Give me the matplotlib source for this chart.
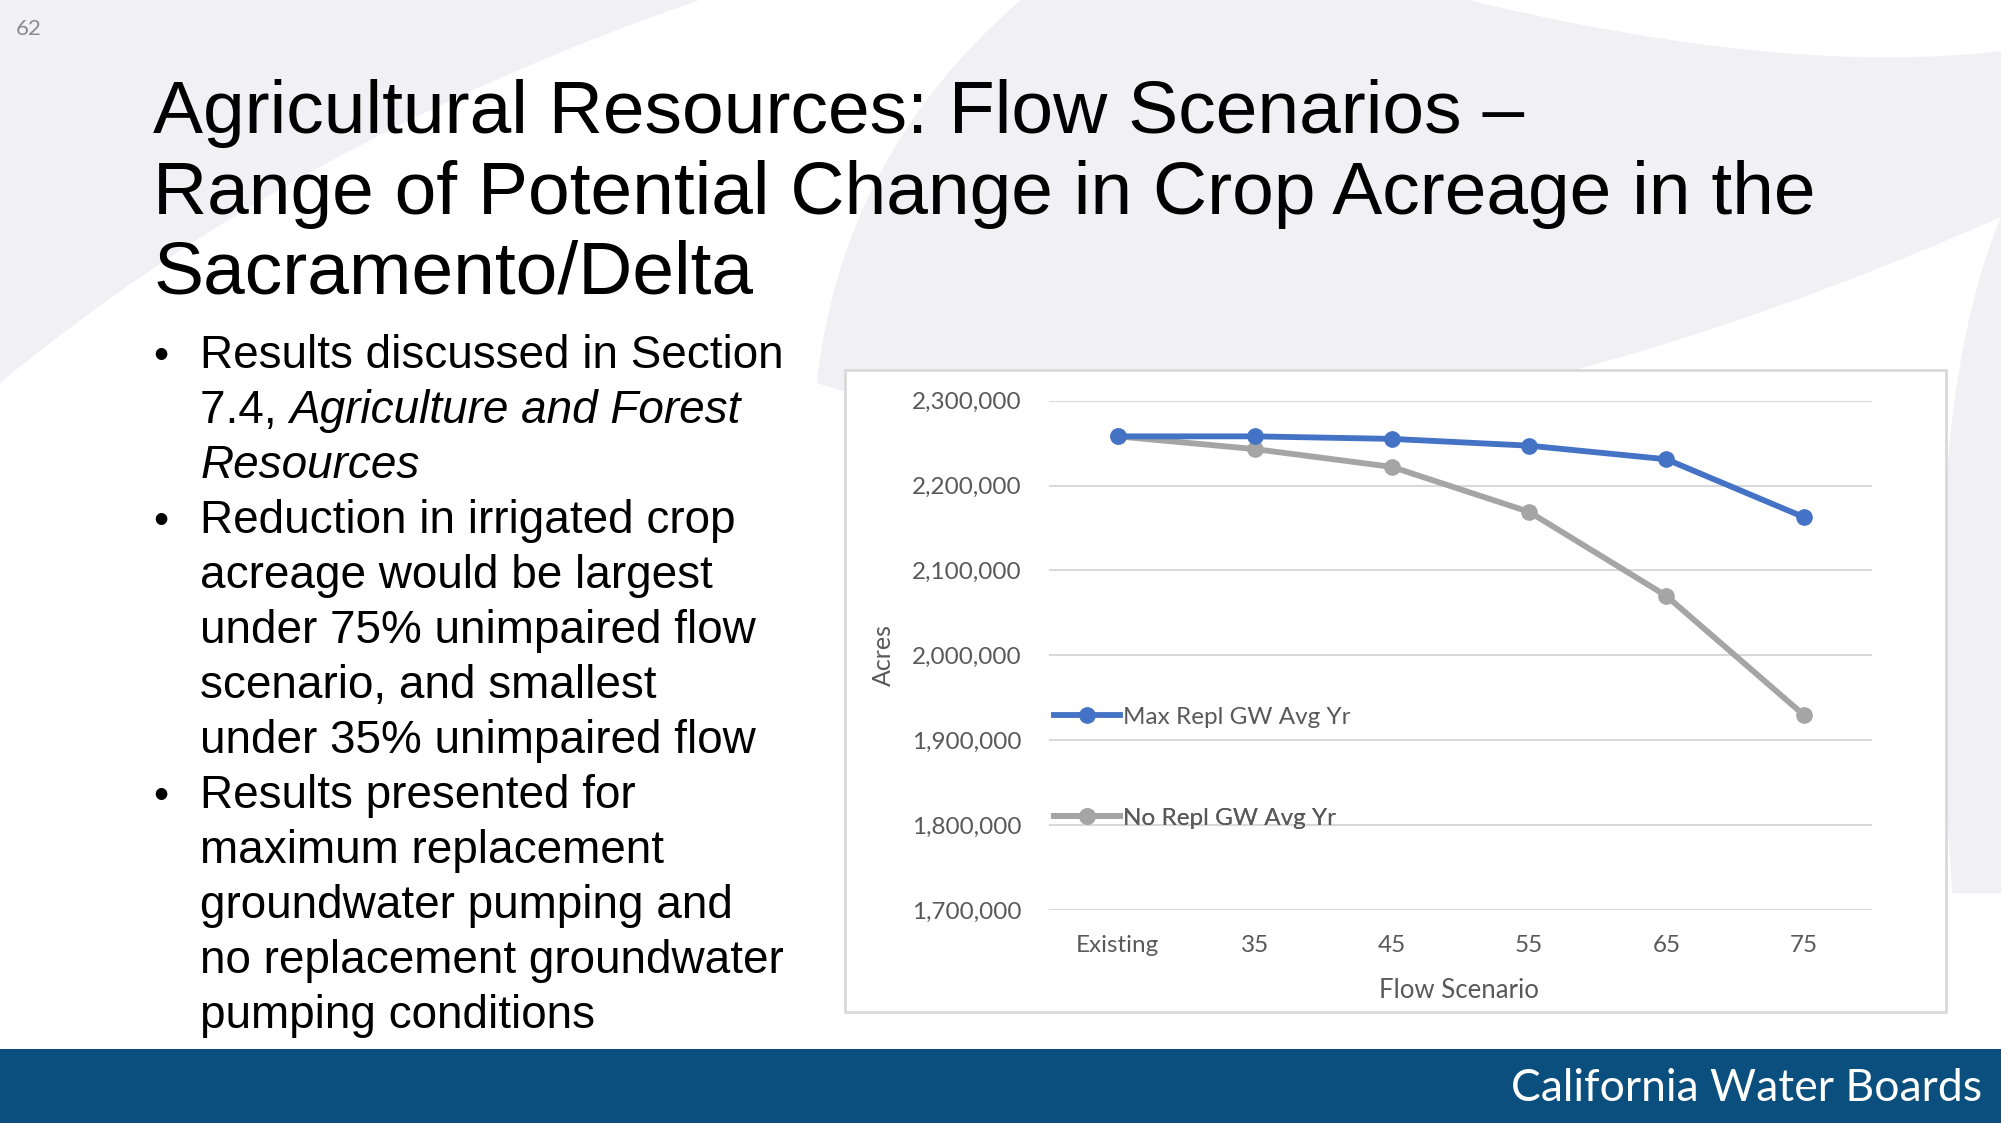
import matplotlib
matplotlib.use("Agg")
import matplotlib.pyplot as plt
from matplotlib.path import Path
from matplotlib.patches import PathPatch, Rectangle
from matplotlib.lines import Line2D
from matplotlib.ticker import FuncFormatter

# ---------------- data ----------------
categories = ["Existing", "35", "45", "55", "65", "75"]
max_repl = [2258000, 2258000, 2255000, 2247000, 2231000, 2163000]
no_repl = [2258000, 2243000, 2222000, 2169000, 2070000, 1930000]
series_labels = ["Max Repl GW Avg Yr", "No Repl GW Avg Yr"]
y_ticks = [1700000, 1800000, 1900000, 2000000, 2100000, 2200000, 2300000]

title_lines = ["Agricultural Resources: Flow Scenarios \u2013",
               "Range of Potential Change in Crop Acreage in the",
               "Sacramento/Delta"]

W, H = 1568.0, 880.0  # layout reference units


def fx(x):
    return x / W


def fy(y):
    return 1 - y / H


fig = plt.figure(figsize=(20.01, 11.23), dpi=100)
fig.patch.set_facecolor("white")

# ---------------- background ----------------
bg = fig.add_axes([0, 0, 1, 1], zorder=0)
bg.set_xlim(0, W)
bg.set_ylim(H, 0)
bg.axis("off")
gray = "#f1f1f5"
g1 = Path([(0, 0), (548, 0), (230, 110), (0, 300), (0, 0)],
          [Path.MOVETO, Path.LINETO, Path.CURVE3, Path.CURVE3, Path.CLOSEPOLY])
bg.add_patch(PathPatch(g1, facecolor=gray, edgecolor="none"))
g2 = Path([(800, 0), (1150, 0), (1400, 60), (1568, 40), (1568, 700),
           (1530, 700), (1500, 330), (1568, 170), (1000, 420), (640, 300),
           (660, 120), (800, 0), (800, 0)],
          [Path.MOVETO, Path.LINETO, Path.CURVE3, Path.CURVE3, Path.LINETO,
           Path.LINETO, Path.CURVE3, Path.CURVE3, Path.CURVE3, Path.CURVE3,
           Path.CURVE3, Path.CURVE3, Path.CLOSEPOLY])
bg.add_patch(PathPatch(g2, facecolor=gray, edgecolor="none"))

# bottom bar
bg.add_patch(Rectangle((0, 822), W, 58, facecolor="#0b4f7e", edgecolor="none"))

# chart box
bg.add_patch(Rectangle((662, 290), 863, 503, facecolor="white",
                       edgecolor="#d9d9d9", linewidth=2))

# ---------------- texts ----------------
fig.text(fx(12), fy(23), "62", fontsize=16, color="#8c8c8c",
         family="Lato", va="center", ha="left")

title_base = [104, 168, 230]
for line, yb in zip(title_lines, title_base):
    fig.text(fx(120), fy(yb), line, fontsize=54, family="Liberation Sans",
             color="black", va="baseline", ha="left")

bullet_lines = [
    (True, "Results discussed in Section", None),
    (False, "7.4, ", "Agriculture and Forest"),
    (False, None, "Resources"),
    (True, "Reduction in irrigated crop", None),
    (False, "acreage would be largest", None),
    (False, "under 75% unimpaired flow", None),
    (False, "scenario, and smallest", None),
    (False, "under 35% unimpaired flow", None),
    (True, "Results presented for", None),
    (False, "maximum replacement", None),
    (False, "groundwater pumping and", None),
    (False, "no replacement groundwater", None),
    (False, "pumping conditions", None),
]
renderer = fig.canvas.get_renderer()
b_fs = 33
y0, dy = 288, 43.1
for i, (bullet, normal, ital) in enumerate(bullet_lines):
    yb = y0 + i * dy
    if bullet:
        fig.text(fx(120), fy(yb), "\u2022", fontsize=b_fs - 2, family="Liberation Sans",
                 va="baseline", ha="left")
    xstart = fx(157)
    if normal:
        t = fig.text(xstart, fy(yb), normal, fontsize=b_fs, family="Liberation Sans",
                     va="baseline", ha="left")
        bb = t.get_window_extent(renderer)
        xstart = bb.x1 / fig.bbox.width
    if ital:
        fig.text(xstart, fy(yb), ital, fontsize=b_fs, family="Liberation Sans",
                 style="italic", va="baseline", ha="left")

fig.text(fx(1553), fy(853), "California Water Boards", fontsize=32,
         family="Lato", color="white", va="center", ha="right")

# ---------------- chart ----------------
ax = fig.add_axes([fx(822), fy(713), fx(1467) - fx(822), fy(314) - fy(713)], zorder=2)
ax.set_facecolor("none")
x = list(range(len(categories)))
l1, = ax.plot(x, max_repl, color="#4472c4", lw=4.2, marker="o", ms=11,
              clip_on=False, zorder=4, solid_capstyle="round")
l2, = ax.plot(x, no_repl, color="#a5a5a5", lw=4.2, marker="o", ms=11,
              clip_on=False, zorder=3, solid_capstyle="round")
ax.set_xlim(-0.5, len(categories) - 0.5)
ax.set_ylim(y_ticks[0], y_ticks[-1])
ax.set_yticks(y_ticks)
ax.yaxis.set_major_formatter(FuncFormatter(lambda v, p: f"{int(v):,}"))
ax.set_xticks(x)
ax.set_xticklabels(categories)
ax.grid(axis="y", color="#d9d9d9", lw=1.5)
ax.set_axisbelow(True)
for s in ax.spines.values():
    s.set_visible(False)
ax.tick_params(axis="both", length=0, labelsize=17.5, labelcolor="#595959")
ax.tick_params(axis="y", pad=20)
ax.tick_params(axis="x", pad=18)
for lab in ax.get_xticklabels() + ax.get_yticklabels():
    lab.set_family("Lato")

fig.text(fx(692), fy(513), "Acres", fontsize=18, color="#595959", family="Lato",
         rotation=90, ha="center", va="center")
fig.text(fx(1143), fy(776), "Flow Scenario", fontsize=18.5, color="#595959",
         family="Lato", ha="center", va="center")

for handle, lab, yy in [(l1, series_labels[0], 562), (l2, series_labels[1], 641)]:
    h = Line2D([], [], color=handle.get_color(), lw=4.2, marker="o", ms=11)
    leg = ax.legend([h], [lab], loc="center left",
                    bbox_to_anchor=(fx(826), fy(yy)), bbox_transform=fig.transFigure,
                    frameon=False, handlelength=2.7, handletextpad=0.15,
                    borderpad=0, borderaxespad=0,
                    prop={"family": "Lato", "size": 17.5})
    for t in leg.get_texts():
        t.set_color("#595959")
    ax.add_artist(leg)

fig.savefig("out.png", dpi=100)
